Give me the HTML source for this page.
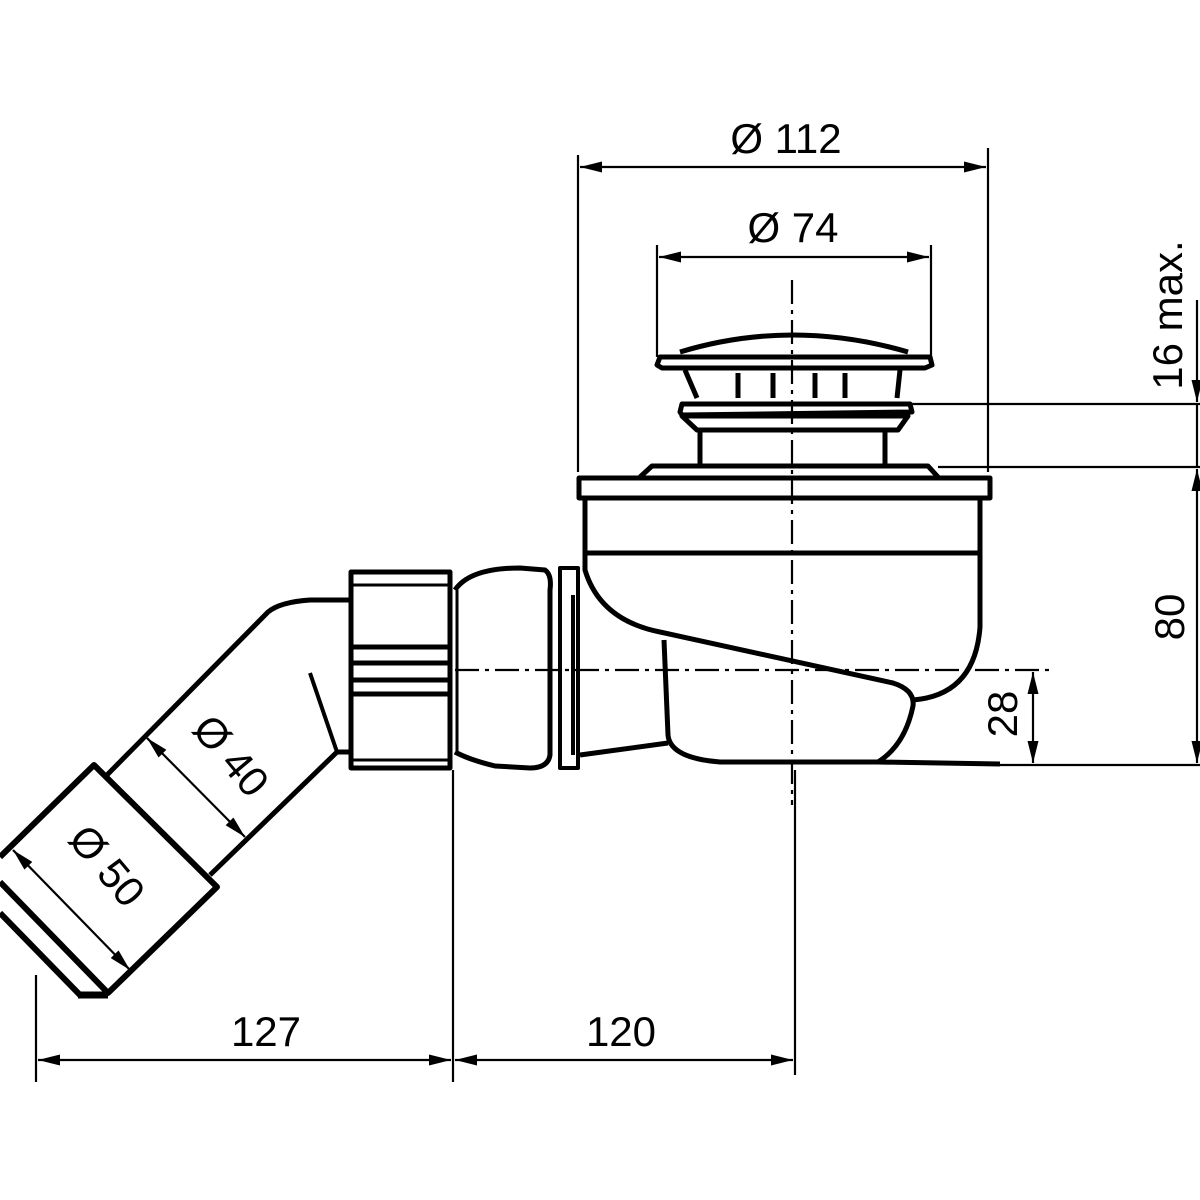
<!DOCTYPE html>
<html><head><style>html,body{margin:0;padding:0;background:#fff}svg{display:block}</style></head>
<body>
<svg width="1200" height="1200" viewBox="0 0 1200 1200" xmlns="http://www.w3.org/2000/svg">
<defs>
<marker id="a" viewBox="0 0 20 10" refX="20" refY="5" markerWidth="22" markerHeight="11" markerUnits="userSpaceOnUse" orient="auto-start-reverse"><path d="M0,0 L20,5 L0,10 z" fill="#000"/></marker>
</defs>
<g fill="none" stroke="#000" stroke-width="2.2">
<line x1="578" y1="155" x2="578" y2="472"/>
<line x1="988" y1="148" x2="988" y2="472"/>
<line x1="657" y1="245" x2="657" y2="357"/>
<line x1="931" y1="245" x2="931" y2="357"/>
<line x1="912" y1="404" x2="1200" y2="404"/>
<line x1="938" y1="467" x2="1200" y2="467"/>
<line x1="1000" y1="765" x2="1200" y2="765"/>
<line x1="36" y1="975" x2="36" y2="1082"/>
<line x1="453" y1="770" x2="453" y2="1082"/>
<line x1="795" y1="770" x2="795" y2="1075"/>
<line x1="580" y1="167" x2="986" y2="167" marker-start="url(#a)" marker-end="url(#a)"/>
<line x1="659" y1="257" x2="929" y2="257" marker-start="url(#a)" marker-end="url(#a)"/>
<line x1="1197" y1="300" x2="1197" y2="402" marker-end="url(#a)"/>
<line x1="1197" y1="469" x2="1197" y2="763" marker-start="url(#a)" marker-end="url(#a)"/>
<line x1="1197" y1="404" x2="1197" y2="467"/>
<line x1="1033" y1="672" x2="1033" y2="763" marker-start="url(#a)" marker-end="url(#a)"/>
<line x1="38" y1="1060" x2="451" y2="1060" marker-start="url(#a)" marker-end="url(#a)"/>
<line x1="455" y1="1060" x2="793" y2="1060" marker-start="url(#a)" marker-end="url(#a)"/>
<line x1="147" y1="738" x2="245" y2="837" marker-start="url(#a)" marker-end="url(#a)"/>
<line x1="13" y1="850" x2="130" y2="970" marker-start="url(#a)" marker-end="url(#a)"/>
<line x1="792" y1="280" x2="792" y2="805" stroke-dasharray="24,6,4,6"/>
<line x1="455" y1="670" x2="1052" y2="670" stroke-dasharray="24,6,4,6"/>
</g>
<g fill="none" stroke="#000" stroke-width="5" stroke-linejoin="round">
<path d="M680,352 Q792,318 908,352"/>
<path d="M660,357 L930,357 L932,365 L925,368 L662,368 L657,365 Z"/>
<line x1="685" y1="370" x2="697" y2="398"/>
<line x1="900" y1="370" x2="897" y2="398"/>
<line x1="738" y1="373" x2="738" y2="398"/><line x1="773" y1="373" x2="773" y2="398"/>
<line x1="815" y1="373" x2="815" y2="398"/><line x1="845" y1="373" x2="845" y2="398"/>
<path d="M682,404 L910,404 L912,412 L682,415 L680,412 Z"/>
<path d="M682,416 L908,416 L898,430 L697,430 Z"/>
<line x1="700" y1="430" x2="700" y2="465"/><line x1="885" y1="430" x2="885" y2="465"/>
<path d="M640,477 L652,466 L928,466 L938,477"/>
<rect x="579" y="478" width="411" height="20"/>
<path d="M585,500 L585,570 Q600,620 660,632 L893,683 Q915,690 913,706 Q905,745 878,762 L720,762 Q670,758 668,735 L664,640"/>
<path d="M980,500 L980,627 Q975,695 913,700"/>
<line x1="585" y1="553" x2="980" y2="553"/>
<line x1="878" y1="762" x2="1000" y2="764"/>
<line x1="580" y1="755" x2="668" y2="743"/>
<rect x="560" y="568" width="18" height="200" stroke-width="4"/>
<line x1="573" y1="595" x2="573" y2="755" stroke-width="4"/>
<path d="M455,590 Q470,568 520,568 L545,570 Q552,575 550,590 L550,755 Q548,768 530,768 L495,766 Q470,760 455,752"/>
<line x1="457" y1="590" x2="457" y2="752" stroke-width="3"/>
<rect x="351" y="572" width="99" height="196"/>
<line x1="351" y1="585" x2="450" y2="585" stroke-width="3"/>
<line x1="351" y1="647" x2="450" y2="647"/>
<line x1="351" y1="663" x2="450" y2="663"/>
<line x1="351" y1="680" x2="450" y2="680"/>
<line x1="351" y1="694" x2="450" y2="694"/>
<line x1="351" y1="760" x2="450" y2="760" stroke-width="3"/>
<path d="M349,600 L310,600 Q280,602 268,612 L107,775"/>
<path d="M349,752 L337,752 L210,875"/>
<line x1="310" y1="673" x2="337" y2="752" stroke-width="4"/>
<path d="M0,857 L94,765 L217,887 L108,993 L0,882" stroke-width="6"/>
<line x1="0" y1="913" x2="80" y2="995" stroke-width="6"/>
<line x1="78" y1="995" x2="108" y2="995" stroke-width="7"/>
</g>
<g font-family="'Liberation Sans', sans-serif" font-size="42" fill="#000" text-anchor="middle">
<text x="786" y="153">Ø 112</text>
<text x="793" y="242">Ø 74</text>
<text x="266" y="1046">127</text>
<text x="621" y="1046">120</text>
<text transform="translate(1182,315) rotate(-90)">16 max.</text>
<text transform="translate(1184,617) rotate(-90)">80</text>
<text transform="translate(1017,714) rotate(-90)">28</text>
<text transform="translate(220,765) rotate(50)">Ø 40</text>
<text transform="translate(96,875) rotate(50)">Ø 50</text>
</g>
</svg>
</body></html>
